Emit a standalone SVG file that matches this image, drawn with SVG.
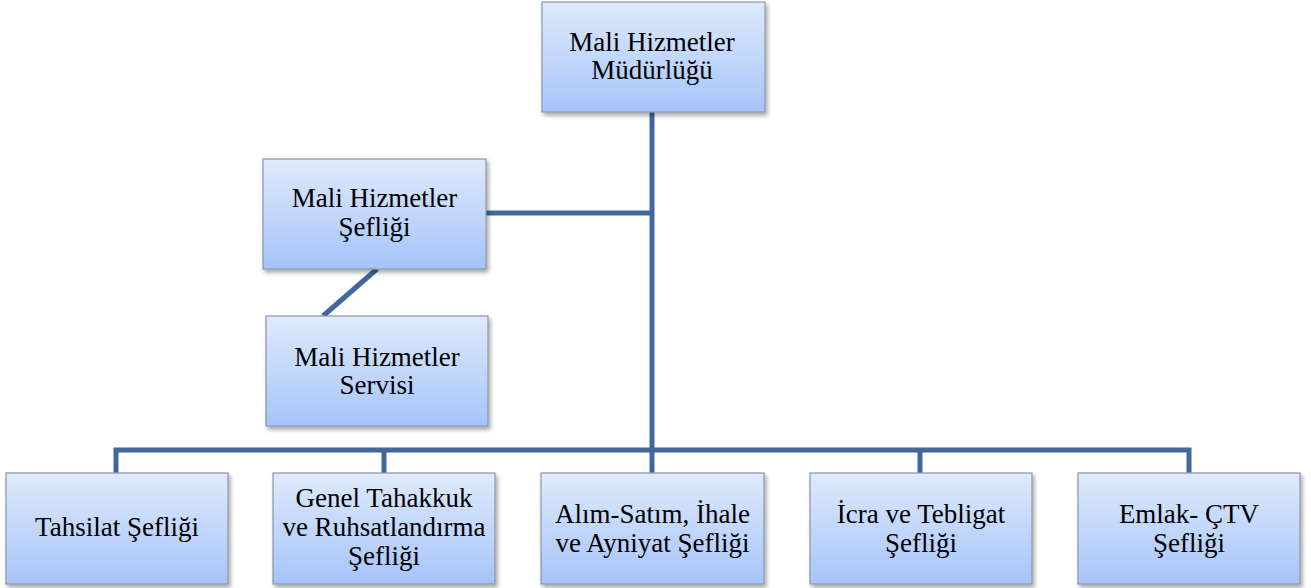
<svg xmlns="http://www.w3.org/2000/svg" width="1311" height="588" viewBox="0 0 1311 588">
<defs>
<linearGradient id="g" x1="0" y1="0" x2="0" y2="1">
<stop offset="0" stop-color="#dfeafc"/>
<stop offset="1" stop-color="#a6c4fa"/>
</linearGradient>
<filter id="sh" x="-10%" y="-10%" width="125%" height="130%">
<feDropShadow dx="2" dy="3" stdDeviation="2" flood-color="#000" flood-opacity="0.35"/>
</filter>
</defs>
<style>
.box{fill:url(#g);stroke:#8a96a8;stroke-width:1.2;filter:url(#sh)}
text{font-family:'Liberation Serif','Times New Roman',serif;font-size:27px;fill:#000;text-anchor:middle}
.c{fill:none;stroke:#41679b;stroke-width:5}
</style>
<g id="connectors">
<path class="c" d="M652 112 V450"/>
<path class="c" d="M486 213 H652"/>
<path class="c" d="M377 269 L323 316"/>
<path class="c" d="M116 473 V450 H1189 V473"/>
<path class="c" d="M384 450 V473"/>
<path class="c" d="M652 450 V473"/>
<path class="c" d="M920 450 V473"/>
</g>
<g id="n-mudurluk">
<rect class="box" x="542" y="2" width="223" height="110"/>
<text x="652" y="51">Mali Hizmetler</text>
<text x="652" y="79">Müdürlüğü</text>
</g>
<g id="n-seflik">
<rect class="box" x="263" y="159" width="223" height="110"/>
<text x="374.5" y="207">Mali Hizmetler</text>
<text x="374.5" y="236">Şefliği</text>
</g>
<g id="n-servis">
<rect class="box" x="266" y="316" width="222" height="110"/>
<text x="377" y="366">Mali Hizmetler</text>
<text x="377" y="394">Servisi</text>
</g>
<g id="n-tahsilat">
<rect class="box" x="6" y="473" width="222" height="111"/>
<text x="117" y="536">Tahsilat Şefliği</text>
</g>
<g id="n-genel">
<rect class="box" x="273" y="473" width="222" height="111"/>
<text x="384" y="507">Genel Tahakkuk</text>
<text x="384" y="536">ve Ruhsatlandırma</text>
<text x="384" y="565">Şefliği</text>
</g>
<g id="n-alim">
<rect class="box" x="541" y="473" width="223" height="111"/>
<text x="652.5" y="523">Alım-Satım, İhale</text>
<text x="652.5" y="552">ve Ayniyat Şefliği</text>
</g>
<g id="n-icra">
<rect class="box" x="810" y="473" width="222" height="111"/>
<text x="921" y="523">İcra ve Tebligat</text>
<text x="921" y="552">Şefliği</text>
</g>
<g id="n-emlak">
<rect class="box" x="1078" y="473" width="222" height="111"/>
<text x="1189" y="523">Emlak- ÇTV</text>
<text x="1189" y="552">Şefliği</text>
</g>
</svg>
